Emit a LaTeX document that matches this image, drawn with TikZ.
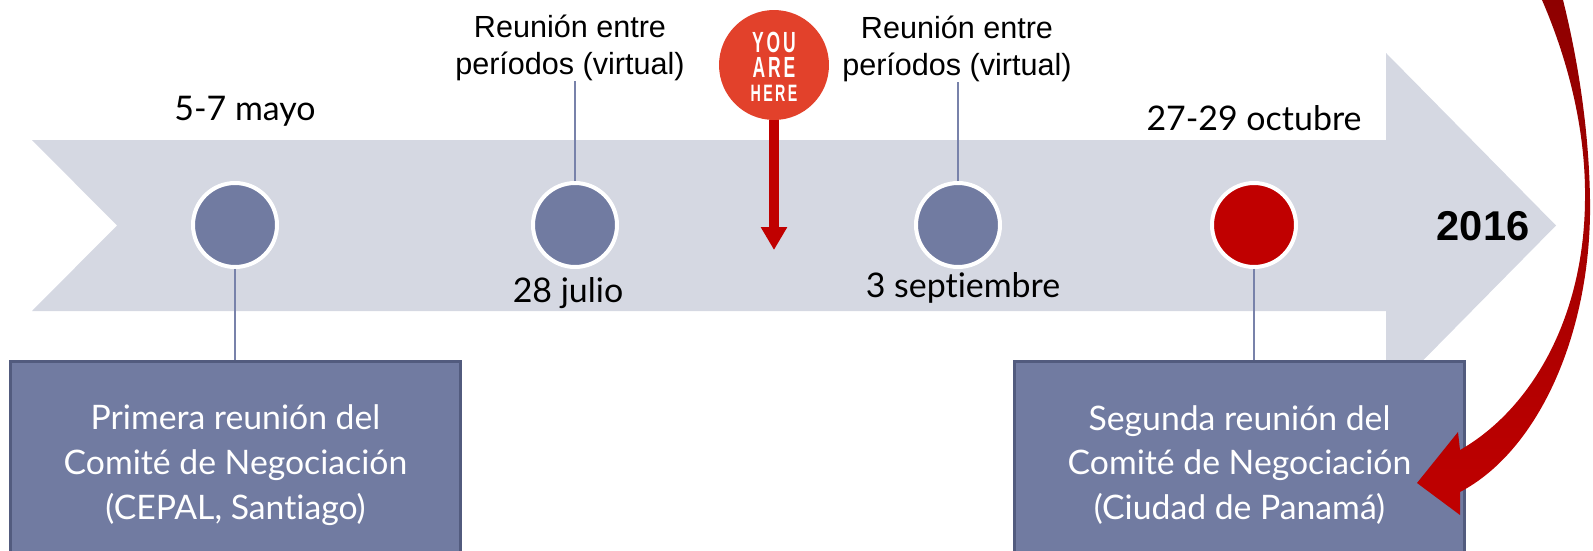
\documentclass[tikz,border=0pt]{standalone}
\usepackage{fontspec}
\setmainfont{Lato}[Ligatures=NoCommon]
\newfontfamily\arialfont{Liberation Sans}
\usetikzlibrary{positioning,arrows.meta}
\definecolor{bandgray}{HTML}{D5D8E2}
\definecolor{slate}{HTML}{717BA1}
\definecolor{boxborder}{HTML}{525B7E}
\definecolor{stemblue}{HTML}{7882AA}
\definecolor{darkred}{HTML}{C00000}
\definecolor{deepred}{HTML}{8E0000}
\definecolor{herered}{HTML}{E2412B}

\begin{document}
\begin{tikzpicture}[x=0.02cm,y=-0.02cm]
  \tikzset{dot/.style = {circle, fill=slate, draw=white, line width=0.08cm,
      minimum size=1.68cm, inner sep=0pt}}
  \tikzset{meeting/.style = {rectangle, fill=slate, draw=boxborder, line width=0.06cm,
      minimum width=9.02cm, minimum height=4.14cm, anchor=north, align=center,
      text=white, font=\fontsize{19.2}{25.5}\selectfont}}
  \tikzset{datelabel/.style = {anchor=base, inner sep=0pt, font=\fontsize{19.3}{23}\selectfont}}
  \tikzset{virtual/.style = {anchor=base, inner sep=0pt, align=center,
      font=\arialfont\fontsize{17.4}{21}\selectfont}}
  \tikzset{stem/.style = {draw=stemblue, line width=0.04cm}}

  \useasboundingbox (0,0) rectangle (1593,551);
  \clip (0,0) rectangle (1593,551);

  % timeline band
  \fill[bandgray] (32,140) -- (1386,140) -- (1386,53) -- (1556,225.5)
    -- (1386,398) -- (1386,311) -- (32,311) -- (117,225.5) -- cycle;

  \node[dot] (mayo) at (235,225) {};
  \node[dot] (julio) at (575,225) {};
  \node[dot] (sept) at (958,225) {};
  \node[dot, fill=darkred] (oct) at (1254,225) {};

  \node[meeting] (primera) at (235.5,360) {Primera reunión del\\Comité de Negociación\\(CEPAL, Santiago)};
  \node[meeting] (segunda) at (1239.5,360) {Segunda reunión del\\Comité de Negociación\\(Ciudad de Panamá)};

  \node[datelabel] (lmayo) at (245,120) {5-7 mayo};
  \node[datelabel] (ljulio) at (568,302) {28 julio};
  \node[datelabel] (lsept) at (963,297) {3 septiembre};
  \node[datelabel] (loct) at (1254,130) {27-29 octubre};

  \node[virtual] (reu1) at (570,74) {Reunión entre\\períodos (virtual)};
  \node[virtual] (reu2) at (957,75) {Reunión entre\\períodos (virtual)};

  \node[anchor=base, inner sep=0pt, font=\arialfont\bfseries\fontsize{23.7}{28}\selectfont] (year) at (1483,240) {2016};

  \draw[stem] (mayo.south) -- (mayo |- primera.north);
  \draw[stem] (julio.north) -- (julio |- reu1.south);
  \draw[stem] (sept.north) -- (sept |- reu2.south);
  \draw[stem] (oct.south) -- (oct |- segunda.north);

  % you are here
  \node[circle, fill=herered, minimum size=2.2cm, inner sep=0pt] (here) at (774,65) {};
  \node[align=center, text=white, inner sep=0pt,
      font=\arialfont\bfseries\fontsize{16.6}{14}\selectfont] (youtext) at (774,67)
      {\scalebox{0.6}[1]{Y\,O\,U}\\\scalebox{0.6}[1]{A\,R\,E}\\\scalebox{0.6}[1]{\fontsize{13.5}{14}\selectfont H\,E\,R\,E}};
  \coordinate (now) at (774,250);
  \draw[darkred, line width=0.2cm, -{Triangle[width=0.5cm,length=0.46cm]}] (here.south) -- (now);

  % curved arrow into the second meeting
  \shade[top color=deepred, bottom color=darkred]
    (1542,0) .. controls (1568,60) and (1586,130) .. (1585,200)
    .. controls (1584,320) and (1530,410) .. (1460,450)
    -- (1458,432) -- (1417,483) -- (1460,515) -- (1460,492)
    .. controls (1540,450) and (1592,330) .. (1590,200)
    .. controls (1589,130) and (1578,60) .. (1563,0) -- cycle;
\end{tikzpicture}
\end{document}
